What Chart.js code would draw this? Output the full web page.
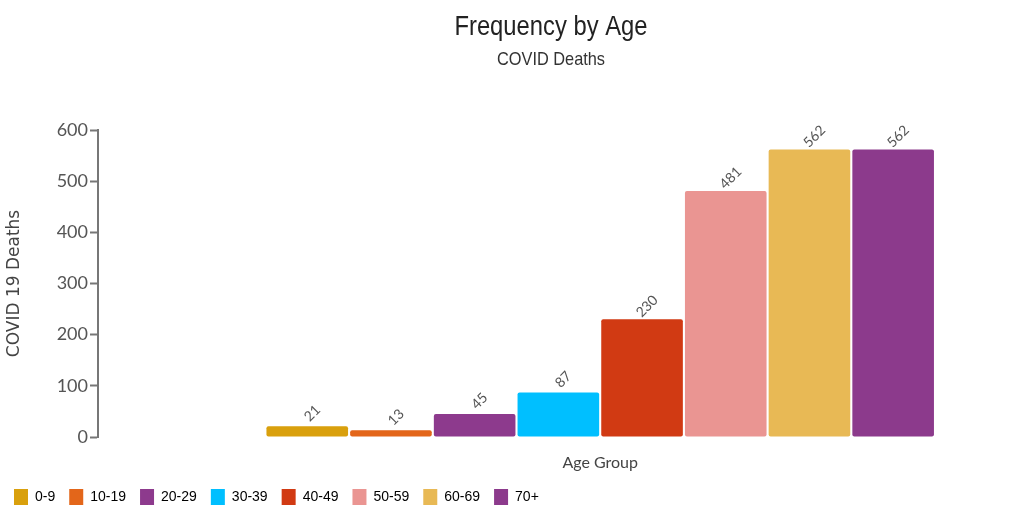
<!DOCTYPE html>
<html>
<head>
<meta charset="utf-8">
<script src="https://cdn.jsdelivr.net/npm/chart.js@4.4.1/dist/chart.umd.min.js"></script>
<style>
	html, body { margin: 0; padding: 0; background: #fff; }
	#wrap { width: 1029px; height: 515px; }
</style>
</head>
<body>
<div id="wrap"><canvas id="ageChart"></canvas></div>
<script>
// Chart data
const ageGroups = ["0-9", "10-19", "20-29", "30-39", "40-49", "50-59", "60-69", "70+"];
const deaths = [21, 13, 45, 87, 230, 481, 562, 562];
const barColors = ["#d9a00d", "#e3661a", "#8d3a8d", "#00bfff", "#d13a13", "#ea9592", "#e8b955", "#8c3a8c"];

const titleText = "Frequency by Age";
const subtitleText = "COVID Deaths";
const xTitleText = "Age Group";
const yTitleText = "COVID 19 Deaths";

// the original leaves two empty slots before the first age group
const emptySlots = 2;
const slotLabels = Array(emptySlots).fill("").concat(ageGroups);
const slotValues = Array(emptySlots).fill(null).concat(deaths);
const slotColors = Array(emptySlots).fill("transparent").concat(barColors);

// no narrow font installed, so squeeze the regular one a little
function drawNarrow(ctx, text, x, y, squeeze) {
	ctx.save();
	ctx.translate(x, y);
	ctx.scale(squeeze, 1);
	ctx.fillText(text, 0, 0);
	ctx.restore();
}

// Draws titles, x title and the rotated value labels
const textPlugin = {
	id: "textPlugin",
	afterDatasetsDraw(chart) {
		const ctx = chart.ctx;
		const bars = chart.getDatasetMeta(0).data;

		ctx.save();
		ctx.fillStyle = "#555";
		ctx.font = "14px Lato";
		ctx.textAlign = "center";
		ctx.textBaseline = "middle";
		bars.forEach((bar, i) => {
			if (slotValues[i] == null) return;
			ctx.save();
			ctx.translate(bar.x + 5, bar.y - 13);
			ctx.rotate(-Math.PI / 4);
			ctx.fillText(slotValues[i], 0, 0);
			ctx.restore();
		});

		// x title centred over the bars
		const first = bars[emptySlots];
		const last = bars[bars.length - 1];
		ctx.fillStyle = "#444";
		ctx.font = "16px Lato";
		ctx.textBaseline = "alphabetic";
		ctx.fillText(xTitleText, (first.x + last.x) / 2, 468);

		// titles
		const titleX = 551;
		ctx.fillStyle = "#222";
		ctx.font = "28px 'Liberation Sans', Arial";
		drawNarrow(ctx, titleText, titleX, 35, 0.85);
		ctx.fillStyle = "#333";
		ctx.font = "19px 'Liberation Sans', Arial";
		drawNarrow(ctx, subtitleText, titleX, 65, 0.86);
		ctx.restore();
	},
};

const ctx = document.getElementById("ageChart");

new Chart(ctx, {
	type: "bar",
	data: {
		labels: slotLabels,
		datasets: [
			{
				label: "COVID Deaths",
				data: slotValues,
				backgroundColor: slotColors,
				borderRadius: 2,
				borderSkipped: false,
				barPercentage: 0.975,
				categoryPercentage: 1,
			},
		],
	},
	options: {
		responsive: true,
		maintainAspectRatio: false,
		animation: false,
		layout: {
			padding: { top: 130, right: 94, left: 0, bottom: 0 },
		},
		plugins: {
			legend: {
				position: "bottom",
				align: "start",
				labels: {
					boxWidth: 14,
					boxHeight: 16,
					padding: 14,
					color: "#333",
					font: { family: "'Liberation Sans', Arial", size: 14 },
					generateLabels: () =>
						ageGroups.map((g, i) => ({
							text: g,
							fillStyle: barColors[i],
							strokeStyle: barColors[i],
							lineWidth: 0,
							hidden: false,
							index: i,
						})),
				},
				onClick: () => {},
			},
			tooltip: { enabled: false },
		},
		scales: {
			x: {
				grid: { display: false },
				border: { display: false },
				ticks: { display: false },
				afterFit: scale => {
					scale.height = 38;
				},
			},
			y: {
				min: 0,
				max: 600,
				border: { display: true, color: "#777", width: 2 },
				grid: {
					drawOnChartArea: false,
					drawTicks: true,
					tickLength: 8,
					tickColor: "#777",
					tickWidth: 2,
				},
				ticks: {
					stepSize: 100,
					padding: 2,
					color: "#555",
					font: { family: "Lato", size: 18 },
				},
				title: {
					display: true,
					text: yTitleText,
					color: "#444",
					padding: { top: 4, bottom: 0 },
					font: { family: "'DejaVu Sans'", size: 17 },
				},
				afterFit: scale => {
					scale.width = 98;
				},
			},
		},
	},
	plugins: [textPlugin],
});
</script>
</body>
</html>
